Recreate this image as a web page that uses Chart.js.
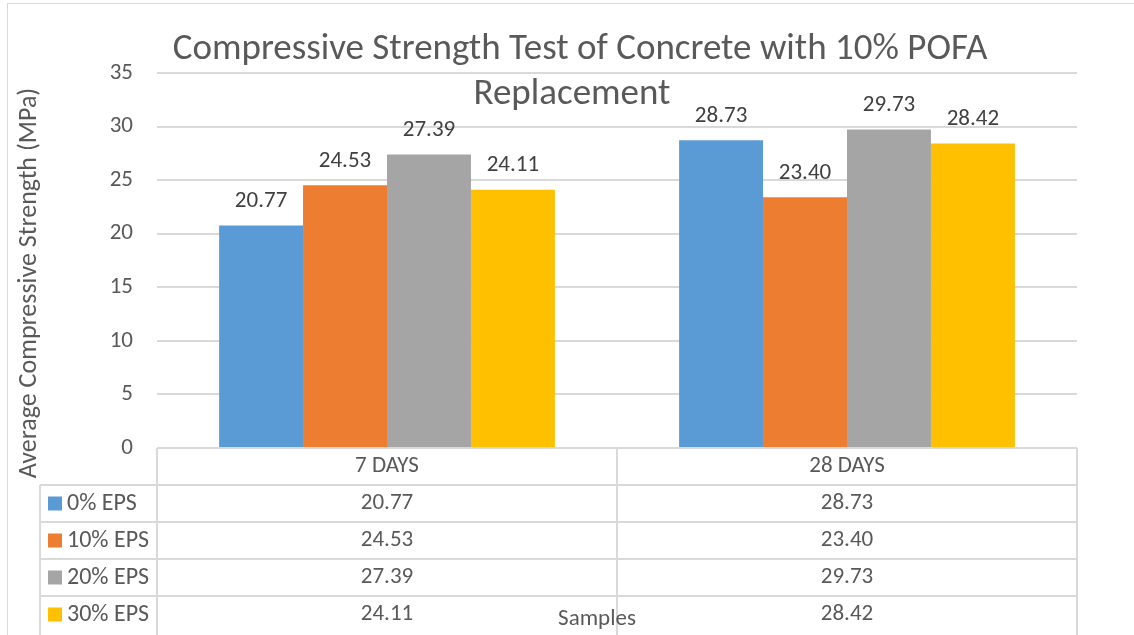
<!DOCTYPE html>
<html>
<head>
<meta charset="utf-8">
<script src="https://cdn.jsdelivr.net/npm/chart.js@4/dist/chart.umd.min.js"></script>
<style>
  html, body { margin: 0; padding: 0; background: #fff; }
  #wrap { width: 1134px; height: 635px; }
</style>
</head>
<body>
<div id="wrap"><canvas id="chart"></canvas></div>
<script>
// Chart data
const categories = ['7 DAYS', '28 DAYS'];
const seriesNames = ['0% EPS', '10% EPS', '20% EPS', '30% EPS'];
const eps0 = [20.77, 28.73];
const eps10 = [24.53, 23.40];
const eps20 = [27.39, 29.73];
const eps30 = [24.11, 28.42];
const seriesColors = ['#5B9BD5', '#ED7D31', '#A5A5A5', '#FFC000'];
const yTicks = [0, 5, 10, 15, 20, 25, 30, 35];

const FONT = 'Carlito, Lato, sans-serif';
const TEXT = '#595959';
const LINE = '#d9d9d9';
const allSeries = [eps0, eps10, eps20, eps30];

// draws title, labels and the data table under the bars
const extras = {
    id: 'extras',
    afterDraw(chart) {
        const c = chart.ctx;
        const area = chart.chartArea;
        const x = chart.scales.x;
        c.save();

        // outer chart border
        c.strokeStyle = LINE;
        c.lineWidth = 1;
        c.strokeRect(7.5, 3.5, 1200, 700);

        // title
        c.fillStyle = TEXT;
        c.textAlign = 'center';
        c.textBaseline = 'middle';
        c.font = '37px ' + FONT;
        c.fillText('Compressive Strength Test of Concrete with 10% POFA', 580, 50);
        c.fillText('Replacement', 572, 95);

        // y axis title
        c.save();
        c.translate(29, 283);
        c.rotate(-Math.PI / 2);
        c.font = '26px ' + FONT;
        c.fillText('Average Compressive Strength (MPa)', 0, 0);
        c.restore();

        // value labels above the bars
        c.fillStyle = '#404040';
        c.font = '23px ' + FONT;
        chart.data.datasets.forEach((ds, i) => {
            chart.getDatasetMeta(i).data.forEach((bar, j) => {
                c.fillText(ds.data[j].toFixed(2), bar.x, bar.y - 24);
            });
        });

        // data table
        const rowH = 37;
        const top = area.bottom;
        const left = area.left;
        const right = area.right;
        const keyLeft = 40;
        const half = (x.getPixelForValue(1) - x.getPixelForValue(0)) / 2;
        const cols = categories.map((_, j) => x.getPixelForValue(j));
        const bounds = [left].concat(cols.map(v => v + half));

        c.strokeStyle = LINE;
        c.lineWidth = 2;
        c.beginPath();
        c.moveTo(left, top); c.lineTo(right, top);
        for (let r = 1; r <= 4; r++) {
            c.moveTo(keyLeft, top + r * rowH); c.lineTo(right, top + r * rowH);
        }
        bounds.forEach(b => { c.moveTo(b, top); c.lineTo(b, 700); });
        c.moveTo(keyLeft, top + rowH); c.lineTo(keyLeft, 700);
        c.stroke();

        c.fillStyle = TEXT;
        c.font = '23px ' + FONT;
        categories.forEach((cat, j) => c.fillText(cat, cols[j], top + rowH / 2));
        allSeries.forEach((vals, i) => {
            const cy = top + rowH * (i + 1) + rowH / 2;
            c.fillStyle = seriesColors[i];
            c.fillRect(48, cy - 7, 14, 14);
            c.fillStyle = TEXT;
            c.textAlign = 'left';
            c.font = '24px ' + FONT;
            c.fillText(seriesNames[i], 67, cy);
            c.textAlign = 'center';
            c.font = '23px ' + FONT;
            vals.forEach((v, j) => c.fillText(v.toFixed(2), cols[j], cy));
        });

        // x axis title
        c.font = '23px ' + FONT;
        c.fillText('Samples', 597, 619);
        c.restore();
    }
};

const ctx = document.getElementById('chart').getContext('2d');
new Chart(ctx, {
    type: 'bar',
    data: {
        labels: categories,
        datasets: seriesNames.map((name, i) => ({
            label: name,
            data: allSeries[i],
            backgroundColor: seriesColors[i],
            borderWidth: 0,
            barPercentage: 1,
            categoryPercentage: 0.73
        }))
    },
    options: {
        responsive: true,
        maintainAspectRatio: false,
        animation: false,
        layout: {
            padding: { left: 0, top: 73, right: 57, bottom: 187 }
        },
        plugins: {
            legend: { display: false },
            title: { display: false },
            tooltip: { enabled: false }
        },
        scales: {
            x: {
                display: false
            },
            y: {
                min: 0,
                max: 35,
                afterFit(scale) { scale.width = 157; },
                afterBuildTicks(scale) { scale.ticks = yTicks.map(v => ({ value: v })); },
                grid: { color: LINE, lineWidth: 2, drawTicks: false },
                border: { display: false },
                ticks: {
                    padding: 24,
                    color: TEXT,
                    font: { family: FONT, size: 23 }
                }
            }
        }
    },
    plugins: [extras]
});
</script>
</body>
</html>
